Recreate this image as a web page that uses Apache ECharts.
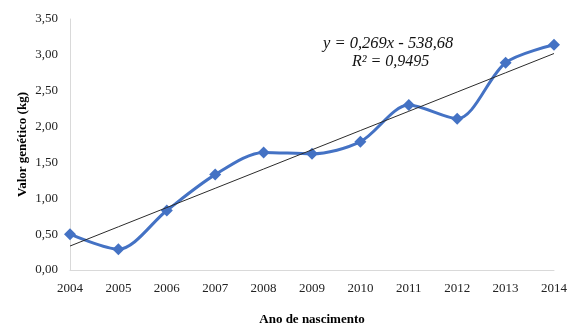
<!DOCTYPE html>
<html>
<head>
<meta charset="utf-8">
<script src="https://cdn.jsdelivr.net/npm/echarts@6/dist/echarts.min.js"></script>
<style>
  html, body { margin: 0; padding: 0; background: #fff; }
  #chart { width: 579px; height: 326px; }
</style>
</head>
<body>
<div id="chart"></div>
<script>
// Birth years and estimated genetic value (kg)
const years = ['2004', '2005', '2006', '2007', '2008', '2009', '2010', '2011', '2012', '2013', '2014'];
const geneticValue = [0.50, 0.29, 0.83, 1.33, 1.64, 1.62, 1.79, 2.30, 2.11, 2.89, 3.14];
const equationLines = ['y = 0,269x - 538,68', 'R² = 0,9495'];

// Least-squares linear trend over the series
function linearFit(ys) {
  const n = ys.length;
  let sx = 0, sy = 0, sxx = 0, sxy = 0;
  ys.forEach((y, i) => { sx += i; sy += y; sxx += i * i; sxy += i * y; });
  const b = (n * sxy - sx * sy) / (n * sxx - sx * sx);
  const a = (sy - b * sx) / n;
  return ys.map((_, i) => a + b * i);
}
const trend = linearFit(geneticValue);

const fmt = v => v.toFixed(2).replace('.', ',');
const serif = '"Liberation Serif", "Times New Roman", serif';

const chart = echarts.init(document.getElementById('chart'));
chart.setOption({
  animation: false,
  grid: { left: 70, right: 25, top: 19, bottom: 56, outerBoundsMode: 'none', containLabel: false },
  xAxis: {
    type: 'category',
    data: years,
    boundaryGap: false,
    name: 'Ano de nascimento',
    nameLocation: 'middle',
    nameGap: 43,
    nameMoveOverlap: false,
    nameTextStyle: { fontFamily: serif, fontWeight: 'bold', fontSize: 13, color: '#000' },
    axisLine: { lineStyle: { color: '#d9d9d9', width: 1 } },
    axisTick: { show: false },
    axisLabel: { fontFamily: serif, fontSize: 13, color: '#222', margin: 12 }
  },
  yAxis: {
    type: 'value',
    min: 0,
    max: 3.5,
    interval: 0.5,
    name: 'Valor genético (kg)',
    nameLocation: 'middle',
    nameGap: 41,
    nameMoveOverlap: false,
    nameTextStyle: { fontFamily: serif, fontWeight: 'bold', fontSize: 13, color: '#000' },
    axisLine: { show: true, lineStyle: { color: '#d9d9d9', width: 1 } },
    axisTick: { show: false },
    splitLine: { show: false },
    axisLabel: { fontFamily: serif, fontSize: 13, color: '#222', margin: 12, formatter: fmt }
  },
  series: [
    {
      type: 'line',
      data: geneticValue,
      smooth: 0.3,
      symbol: 'diamond',
      symbolSize: 12,
      lineStyle: { color: '#4472c4', width: 3 },
      itemStyle: { color: '#4472c4' },
      z: 3
    },
    {
      type: 'line',
      data: trend,
      symbol: 'none',
      lineStyle: { color: '#2b2b2b', width: 1 },
      z: 4
    }
  ],
  graphic: [
    {
      type: 'text',
      left: 323,
      top: 35,
      style: { text: equationLines[0], font: 'italic 16.5px ' + serif, fill: '#111' }
    },
    {
      type: 'text',
      left: 352,
      top: 54,
      style: { text: equationLines[1], font: 'italic 16px ' + serif, fill: '#111' }
    }
  ]
});
</script>
</body>
</html>
